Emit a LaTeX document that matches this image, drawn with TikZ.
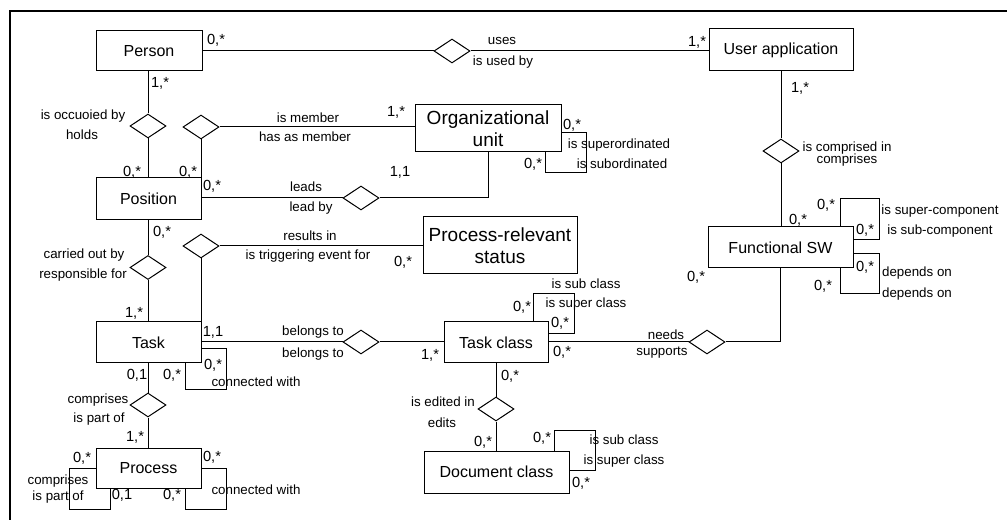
\documentclass[tikz,border=0pt]{standalone}
\usepackage{fontspec}
\setmainfont{Liberation Sans}
\usetikzlibrary{shapes.geometric}
\begin{document}
\begin{tikzpicture}[x=0.75pt,y=-0.75pt,
  entity/.style={draw, rectangle, line width=0.75pt, inner sep=0pt,
    font=\fontsize{12}{14}\selectfont},
  bigentity/.style={entity, align=center,
    font=\fontsize{14.25}{16.5}\selectfont},
  rel/.style={draw, diamond, line width=0.75pt, inner sep=0pt,
    minimum width=27pt, minimum height=18pt},
  conn/.style={line width=0.75pt},
  mult/.style={inner sep=0pt, font=\fontsize{11}{12}\selectfont},
  role/.style={inner sep=0pt, font=\fontsize{10}{12}\selectfont},
  frameline/.style={line width=2pt}]
\useasboundingbox (0,0) rectangle (1007,520);

% outer frame (top and left edges)
\coordinate (fA) at (10,11);
\coordinate (fB) at (1007,11);
\coordinate (fC) at (10,520);
\draw[frameline] (fB) -- (fA) -- (fC);

% entities
\node[entity, minimum width=79.5pt, minimum height=30pt] (person) at (149,51) {Person};
\node[entity, minimum width=108pt, minimum height=31.5pt] (ua) at (781,50) {User application};
\node[bigentity, minimum width=109.5pt, minimum height=35.25pt] (org) at (488,128.5) {Organizational\\unit};
\node[entity, minimum width=78.75pt, minimum height=31.5pt] (pos) at (148.5,199) {Position};
\node[bigentity, minimum width=115.5pt, minimum height=42.75pt] (prs) at (500,245.5) {Process-relevant\\status};
\node[entity, minimum width=108.75pt, minimum height=30.75pt] (fsw) at (780.5,247.5) {Functional SW};
\node[entity, minimum width=78.75pt, minimum height=30.75pt] (task) at (148.5,342.5) {Task};
\node[entity, minimum width=78pt, minimum height=30.75pt] (tc) at (496,342.5) {Task class};
\node[entity, minimum width=108.75pt, minimum height=31.5pt] (dc) at (496.5,472) {Document class};
\node[entity, minimum width=78.75pt, minimum height=30pt] (proc) at (148.5,468) {Process};

% relationships
\node[rel] (dUses) at (452,51) {};
\node[rel] (dOcc) at (148,126) {};
\node[rel] (dMem) at (201,127) {};
\node[rel] (dLead) at (361,198) {};
\node[rel] (dComp) at (781,151) {};
\node[rel] (dCarr) at (148,267.5) {};
\node[rel] (dRes) at (201,246) {};
\node[rel] (dBel) at (361,342) {};
\node[rel] (dNeeds) at (707,342) {};
\node[rel] (dEdit) at (496,409) {};
\node[rel] (dPart) at (148,405) {};

% connectors
\draw[conn] (person.east |- dUses) -- (dUses.west);
\draw[conn] (dUses.east) -- (dUses.east -| ua.west);
\draw[conn] (dOcc.north) -- (dOcc |- person.south);
\draw[conn] (dOcc.south) -- (dOcc |- pos.north);
\draw[conn] (dMem.south) -- (dMem |- pos.north);
\draw[conn] (dMem.east) -- (dMem.east -| org.west);
\draw[conn] (pos.east |- dLead) -- (dLead.west);
\draw[conn] (dLead.east) -| (org.south);
\draw[conn] (dCarr.north) -- (dCarr |- pos.south);
\draw[conn] (dCarr.south) -- (dCarr |- task.north);
\draw[conn] (dRes.south) -- (dRes |- task.north);
\draw[conn] (dRes.east) -- (dRes.east -| prs.west);
\draw[conn] (task.east |- dBel) -- (dBel.west);
\draw[conn] (dBel.east) -- (dBel.east -| tc.west);
\draw[conn] (tc.east |- dNeeds) -- (dNeeds.west);
\draw[conn] (dNeeds.east) -| (fsw.south);
\draw[conn] (dComp.north) -- (dComp |- ua.south);
\draw[conn] (dComp.south) -- (dComp |- fsw.north);
\draw[conn] (dEdit.north) -- (dEdit |- tc.south);
\draw[conn] (dEdit.south) -- (dEdit |- dc.north);
\draw[conn] (dPart.north) -- (dPart |- task.south);
\draw[conn] (dPart.south) -- (dPart |- proc.north);

% recursive relationships
\draw[conn] (org.east |- 0,133) -- (586,133) -- (586,173) -- (545,173) -- (545,0 |- org.south);
\draw[conn] (840,0 |- fsw.north) -- (840,199) -- (879,199) -- (879,240) -- (fsw.east |- 0,240);
\draw[conn] (fsw.east |- 0,254) -- (879,254) -- (879,294) -- (840,294) -- (840,0 |- fsw.south);
\draw[conn] (533,0 |- tc.north) -- (533,294) -- (574,294) -- (574,334) -- (tc.east |- 0,334);
\draw[conn] (554,0 |- dc.north) -- (554,430) -- (595,430) -- (595,470) -- (dc.east |- 0,470);
\draw[conn] (task.east |- 0,349) -- (226,349) -- (226,389) -- (185,389) -- (185,0 |- task.south);
\draw[conn] (proc.west |- 0,468) -- (69,468) -- (69,509) -- (110,509) -- (110,0 |- proc.south);
\draw[conn] (proc.east |- 0,468) -- (226,468) -- (226,509) -- (185,509) -- (185,0 |- proc.south);

% multiplicities
\node[mult] (m1) at (216,40) {0,*};
\node[mult] (m2) at (697,42) {1,*};
\node[mult] (m3) at (160,83) {1,*};
\node[mult] (m4) at (132,172) {0,*};
\node[mult] (m5) at (188,172) {0,*};
\node[mult] (m6) at (396,112) {1,*};
\node[mult] (m7) at (212,186) {0,*};
\node[mult] (m8) at (400,172) {1,1};
\node[mult] (m9) at (572,125) {0,*};
\node[mult] (m10) at (533,164) {0,*};
\node[mult] (m11) at (800,88) {1,*};
\node[mult] (m12) at (798,220) {0,*};
\node[mult] (m13) at (826,205) {0,*};
\node[mult] (m14) at (865,230) {0,*};
\node[mult] (m15) at (865,267) {0,*};
\node[mult] (m16) at (823,286) {0,*};
\node[mult] (m17) at (696,277) {0,*};
\node[mult] (m18) at (162,232) {0,*};
\node[mult] (m19) at (134,313) {1,*};
\node[mult] (m20) at (403,262) {0,*};
\node[mult] (m21) at (213,332) {1,1};
\node[mult] (m22) at (213,365) {0,*};
\node[mult] (m23) at (172,375) {0,*};
\node[mult] (m24) at (137,375) {0,1};
\node[mult] (m25) at (135,437) {1,*};
\node[mult] (m26) at (82,458) {0,*};
\node[mult] (m27) at (122,495) {0,1};
\node[mult] (m28) at (212,457) {0,*};
\node[mult] (m29) at (172,495) {0,*};
\node[mult] (m30) at (430,355) {1,*};
\node[mult] (m31) at (522,307) {0,*};
\node[mult] (m32) at (560,323) {0,*};
\node[mult] (m33) at (562,352) {0,*};
\node[mult] (m34) at (510,376) {0,*};
\node[mult] (m35) at (483,442) {0,*};
\node[mult] (m36) at (542,438) {0,*};
\node[mult] (m37) at (581,483) {0,*};

% role names
\node[role] (r1) at (502,41) {uses};
\node[role] (r2) at (503,62) {is used by};
\node[role] (r3) at (83,116) {is occuoied by};
\node[role] (r4) at (82,135) {holds};
\node[role] (r5) at (308,118) {is member};
\node[role] (r6) at (305,137) {has as member};
\node[role] (r7) at (306,187) {leads};
\node[role] (r8) at (311,208) {lead by};
\node[role] (r9) at (619,145) {is superordinated};
\node[role] (r10) at (622,164) {is subordinated};
\node[role] (r11) at (847,148) {is comprised in};
\node[role] (r12) at (847,160) {comprises};
\node[role] (r13) at (940,211) {is super-component};
\node[role] (r14) at (940,231) {is sub-component};
\node[role] (r15) at (917,273) {depends on};
\node[role] (r16) at (917,294) {depends on};
\node[role] (r17) at (84,255) {carried out by};
\node[role] (r18) at (83,275) {responsible for};
\node[role] (r19) at (310,236) {results in};
\node[role] (r20) at (308,256) {is triggering event for};
\node[role] (r21) at (313,332) {belongs to};
\node[role] (r22) at (313,354) {belongs to};
\node[role] (r23) at (666,335) {needs};
\node[role] (r24) at (662,353) {supports};
\node[role] (r25) at (586,284) {is sub class};
\node[role] (r26) at (586,304) {is super class};
\node[role] (r27) at (256,382) {connected with};
\node[role] (r28) at (98,400) {comprises};
\node[role] (r29) at (99,419) {is part of};
\node[role] (r30) at (443,402) {is edited in};
\node[role] (r31) at (442,423) {edits};
\node[role] (r32) at (58,481) {comprises};
\node[role] (r33) at (58,497) {is part of};
\node[role] (r34) at (256,490) {connected with};
\node[role] (r35) at (624,440) {is sub class};
\node[role] (r36) at (624,461) {is super class};
\end{tikzpicture}
\end{document}
